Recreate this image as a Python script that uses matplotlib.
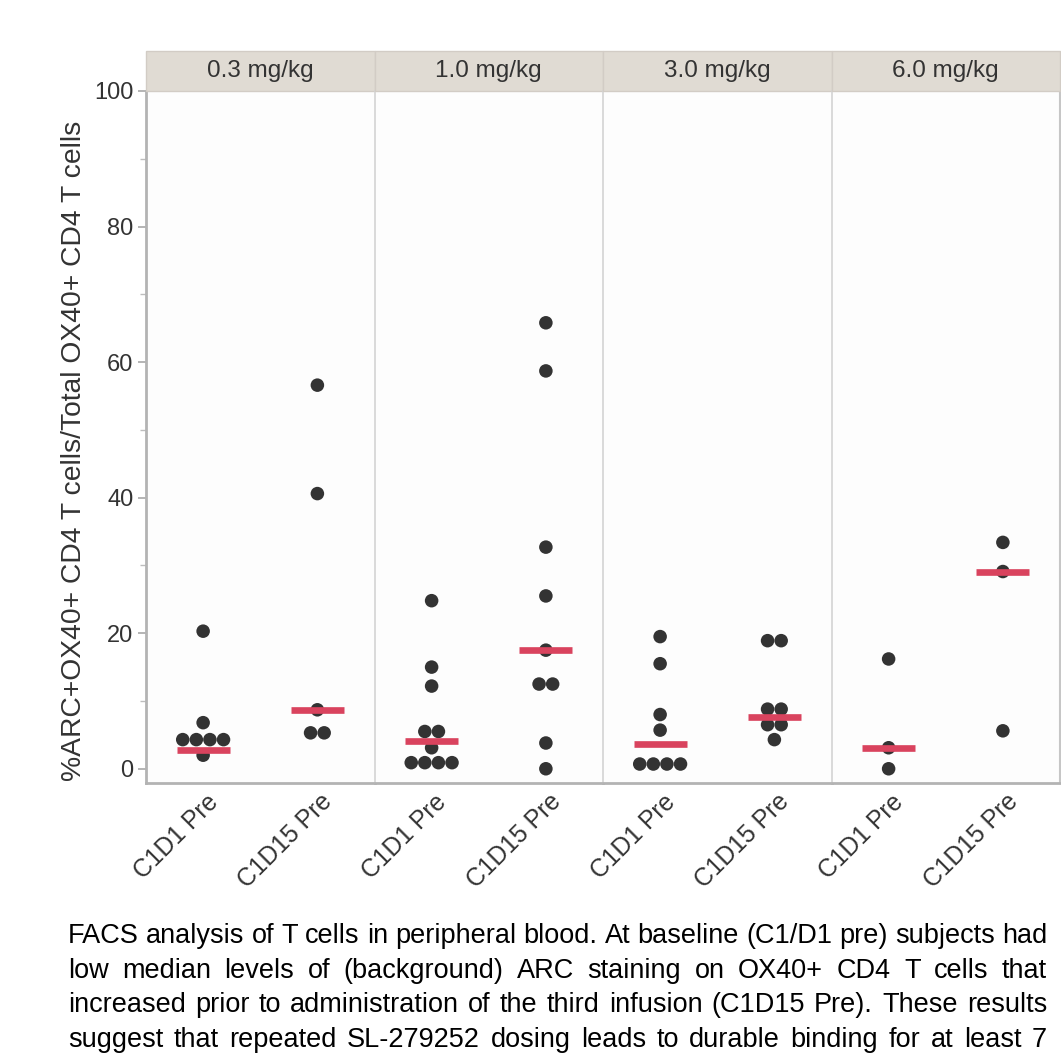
import numpy as np
import matplotlib
matplotlib.use("Agg")
import matplotlib.pyplot as plt
from matplotlib.patches import Rectangle
from matplotlib.transforms import ScaledTranslation

plt.rcParams['font.family'] = ['Liberation Sans', 'DejaVu Sans']

# ---------------- data ----------------
doses = ['0.3 mg/kg', '1.0 mg/kg', '3.0 mg/kg', '6.0 mg/kg']
timepoints = ['C1D1 Pre', 'C1D15 Pre']

c1d1_03 = [20.3, 6.8, 4.3, 4.3, 4.3, 4.3, 2.0]
c1d15_03 = [56.6, 40.6, 8.7, 5.3, 5.3]
c1d1_10 = [24.8, 15.0, 12.2, 5.5, 5.5, 3.1, 0.9, 0.9, 0.9, 0.9]
c1d15_10 = [65.8, 58.7, 32.7, 25.5, 17.5, 12.5, 12.5, 3.8, 0.0]
c1d1_30 = [19.5, 15.5, 8.0, 5.7, 0.7, 0.7, 0.7, 0.7]
c1d15_30 = [18.9, 18.9, 8.8, 8.8, 6.5, 6.5, 4.3]
c1d1_60 = [16.2, 3.1, 0.0]
c1d15_60 = [33.4, 29.1, 5.6]

median_c1d1 = [2.8, 4.1, 3.7, 3.05]
median_c1d15 = [8.7, 17.5, 7.7, 29.1]

yticks = [0, 20, 40, 60, 80, 100]
ylabel = '%ARC+OX40+ CD4 T cells/Total OX40+ CD4 T cells'
caption_lines = [
    "FACS analysis of T cells in peripheral blood. At baseline (C1/D1 pre) subjects had",
    "low median levels of (background) ARC staining on OX40+ CD4 T cells that",
    "increased prior to administration of the third infusion (C1D15 Pre). These results",
    "suggest that repeated SL-279252 dosing leads to durable binding for at least 7",
]

groups = [(c1d1_03, c1d15_03), (c1d1_10, c1d15_10), (c1d1_30, c1d15_30), (c1d1_60, c1d15_60)]

# ---------------- figure ----------------
W, H = 1061, 1059
fig = plt.figure(figsize=(W / 100, H / 100), dpi=100)
fig.patch.set_facecolor('white')

left_px, right_px = 146, 1060
top_px, bot_px = 91, 783
strip_top_px = 51
panel_w = (right_px - left_px) / 4

dot_color = '#333333'
med_color = '#d9435e'
text_color = '#333333'
spine_dark = '#b3b3b3'
divider = '#d4d4d4'
strip_color = '#e0dbd3'

dot_step = 0.119  # beeswarm spacing in category units (one dot diameter)

axes = []
for i, dose in enumerate(doses):
    x0 = left_px + i * panel_w
    ax = fig.add_axes([x0 / W, 1 - bot_px / H, panel_w / W, (bot_px - top_px) / H])
    ax.set_facecolor('#fdfdfd')
    ax.set_xlim(-0.5, 1.5)
    ax.set_ylim(-2.1, 100)
    axes.append(ax)

    for j, vals in enumerate(groups[i]):
        vals = np.asarray(vals, dtype=float)
        xs = np.zeros_like(vals)
        for v in np.unique(vals):
            idx = np.where(vals == v)[0]
            n = len(idx)
            xs[idx] = (np.arange(n) - (n - 1) / 2) * dot_step
        ax.scatter(j + xs, vals, s=95, color=dot_color, edgecolors='none', zorder=3, clip_on=False)

    meds = [median_c1d1[i], median_c1d15[i]]
    for j, m in enumerate(meds):
        ax.plot([j - 0.232, j + 0.232], [m, m], color=med_color, lw=4.8,
                solid_capstyle='butt', zorder=4)

    ax.set_xticks([0, 1])
    ax.set_xticklabels(timepoints, rotation=45, ha='right', va='center',
                       rotation_mode='anchor', fontsize=17.8, color=text_color)
    ax.tick_params(axis='x', length=0, pad=11)
    off = ScaledTranslation(11 / 100, 0, fig.dpi_scale_trans)
    for lab in ax.get_xticklabels():
        lab.set_transform(lab.get_transform() + off)

    ax.spines['top'].set_visible(False)
    ax.spines['bottom'].set_color(spine_dark)
    ax.spines['bottom'].set_linewidth(2.0)
    if i == 0:
        ax.spines['left'].set_color(spine_dark)
        ax.spines['left'].set_linewidth(2.0)
        ax.set_yticks(yticks)
        ax.set_yticks([10, 30, 50, 70, 90], minor=True)
        ax.tick_params(axis='y', which='major', length=6, width=1.2, color='#a8a8a8',
                       labelsize=17, labelcolor=text_color, pad=3)
        ax.tick_params(axis='y', which='minor', length=4, width=1.0, color='#bdbdbd')
    else:
        ax.spines['left'].set_color(divider)
        ax.spines['left'].set_linewidth(1.2)
        ax.set_yticks([])
    if i == 3:
        ax.spines['right'].set_color('#c6c6c6')
        ax.spines['right'].set_linewidth(1.5)
    else:
        ax.spines['right'].set_visible(False)

    # strip header
    sh = (top_px - strip_top_px) / (bot_px - top_px)
    ax.add_patch(Rectangle((0, 1), 1, sh, transform=ax.transAxes, facecolor=strip_color,
                           edgecolor='#d2ccc5', linewidth=1.0, clip_on=False, zorder=5))
    ax.text(0.5, 1 + sh / 2, dose, transform=ax.transAxes, ha='center', va='center',
            fontsize=17.5, color=text_color, zorder=6)

fig.text(74 / W, 1 - 451 / H, ylabel, rotation=90, ha='center', va='center',
         fontsize=20.3, color=text_color)

# ---------------- justified caption ----------------
renderer = fig.canvas.get_renderer()
cap_left, cap_right = 68, 1047
baselines = [943, 978, 1012, 1047]
probe = fig.text(0, 0, caption_lines[0], fontsize=18)
nat_w = probe.get_window_extent(renderer=renderer).width
probe.remove()
cap_fs = 18 * (cap_right - cap_left) / nat_w
for line, yb in zip(caption_lines, baselines):
    words = line.split(' ')
    texts = [fig.text(0, 1 - yb / H, w, fontsize=cap_fs, color='black', ha='left',
                      va='baseline') for w in words]
    widths = [t.get_window_extent(renderer=renderer).width for t in texts]
    gap = (cap_right - cap_left - sum(widths)) / (len(words) - 1)
    x = cap_left
    for t, wdt in zip(texts, widths):
        t.set_x(x / W)
        x += wdt + gap

fig.savefig('out.png', dpi=100, facecolor='white')
